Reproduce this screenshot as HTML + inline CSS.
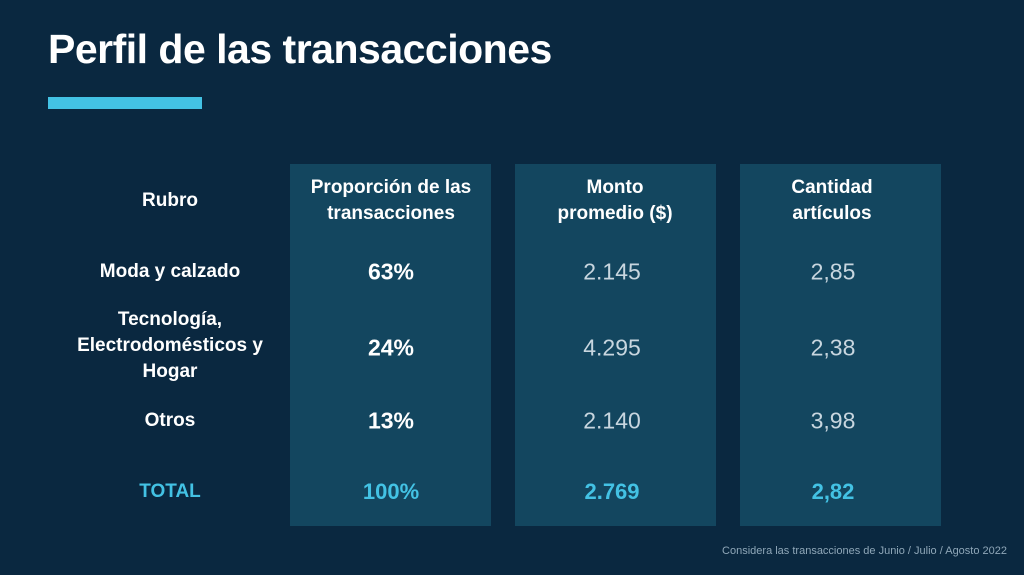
<!DOCTYPE html>
<html><head><meta charset="utf-8"><style>
body{margin:0;width:1024px;height:575px;background:#0a2840;font-family:"Liberation Sans",sans-serif;position:relative;overflow:hidden;color:#fff}
.t{position:absolute;left:48px;top:26px;font-size:41px;font-weight:bold;letter-spacing:-0.5px}
.bar{position:absolute;left:48px;top:97px;width:154px;height:12px;background:#43c2e4}
.box{position:absolute;top:164px;width:201px;height:362px;background:#13465f}
.c{position:absolute;transform:translate(-50%,-50%);text-align:center;white-space:nowrap}
.h{font-weight:bold;font-size:19px;line-height:26px}
.v{font-size:23px;color:#c8d6df}
.b{font-weight:bold;font-size:23px}
.a{color:#43c2e4;font-weight:bold;font-size:22px}
.n{position:absolute;right:17px;top:545px;font-size:11px;color:#8fa7b8}
</style></head><body>
<div class="t">Perfil de las transacciones</div>
<div class="bar"></div>
<div class="box" style="left:290px"></div>
<div class="box" style="left:515px"></div>
<div class="box" style="left:740px"></div>
<div class="c h" style="left:170px;top:201px">Rubro</div>
<div class="c h" style="left:391px;top:201px">Proporción de las<br>transacciones</div>
<div class="c h" style="left:615px;top:201px">Monto<br>promedio ($)</div>
<div class="c h" style="left:832px;top:201px">Cantidad<br>artículos</div>
<div class="c h" style="left:170px;top:272px">Moda y calzado</div>
<div class="c h" style="left:170px;top:346px">Tecnología,<br>Electrodomésticos y<br>Hogar</div>
<div class="c h" style="left:170px;top:421px">Otros</div>
<div class="c a" style="left:170px;top:492px;font-size:19px">TOTAL</div>
<div class="c b" style="left:391px;top:272px">63%</div>
<div class="c b" style="left:391px;top:348px">24%</div>
<div class="c b" style="left:391px;top:421px">13%</div>
<div class="c a" style="left:391px;top:492px">100%</div>
<div class="c v" style="left:612px;top:272px">2.145</div>
<div class="c v" style="left:612px;top:348px">4.295</div>
<div class="c v" style="left:612px;top:421px">2.140</div>
<div class="c a" style="left:612px;top:492px">2.769</div>
<div class="c v" style="left:833px;top:272px">2,85</div>
<div class="c v" style="left:833px;top:348px">2,38</div>
<div class="c v" style="left:833px;top:421px">3,98</div>
<div class="c a" style="left:833px;top:492px">2,82</div>
<div class="n">Considera las transacciones de Junio / Julio / Agosto 2022</div>
</body></html>
